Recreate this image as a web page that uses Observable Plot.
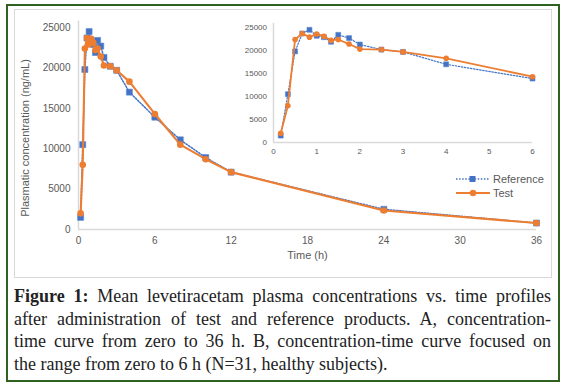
<!DOCTYPE html>
<html><head><meta charset="utf-8">
<script src="https://cdn.jsdelivr.net/npm/d3@7"></script>
<script src="https://cdn.jsdelivr.net/npm/@observablehq/plot@0.6"></script>
<style>
body{margin:0;background:#fff;}
#wrap{position:relative;width:568px;height:389px;overflow:hidden;background:#fff;}
#frame{position:absolute;left:6px;top:4px;width:554px;height:378px;border:2px solid #2f6121;box-sizing:border-box;}
#box{position:absolute;left:14px;top:9px;width:538px;height:269px;border:1px solid #d9d9d9;box-sizing:border-box;}
#main{position:absolute;left:14px;top:9px;}
#inset{position:absolute;left:230px;top:15px;}
#ytitle{position:absolute;left:25px;top:138px;transform:translate(-50%,-50%) rotate(-90deg);white-space:nowrap;font:11px "Liberation Sans",Arial,sans-serif;color:#595959;}
#legend{position:absolute;left:456px;top:172px;font:11px "Liberation Sans",Arial,sans-serif;color:#595959;}
#legend div{height:14px;display:flex;align-items:center;}
#legend svg{margin-right:3px;}
#caption{position:absolute;left:14px;top:285px;width:537px;font:18px "Liberation Serif","Times New Roman",serif;color:#222;line-height:22.7px;}
#caption span{display:block;text-align:justify;text-align-last:justify;white-space:nowrap;}
#caption span.last{text-align-last:left;}
</style></head>
<body>
<div id="wrap">
<div id="frame"></div>
<div id="box"></div>
<div id="main"></div>
<div id="inset"></div>
<div id="ytitle"></div>
<div id="legend"></div>
<div id="caption"></div>
</div>
<script>
// Data (time in hours, concentration in ng/mL)
const times = [0.167,0.333,0.5,0.667,0.833,1,1.167,1.333,1.5,1.75,2,2.5,3,4,6,8,10,12,24,36];
const reference = [1500,10500,19800,23700,24500,23200,22900,21900,23400,22700,21300,20200,19700,17000,13900,11100,8900,7100,2500,800];
const test = [2000,8000,22400,23700,22900,23600,23100,22200,22400,21400,20300,20200,19700,18300,14300,10500,8700,7100,2350,800];
const seriesNames = ["Reference","Test"];
const xTicksMain = [0,6,12,18,24,30,36];
const yTicks = [0,5000,10000,15000,20000,25000];
const xTicksInset = [0,1,2,3,4,5,6];
const xTitle = "Time (h)";
const yTitle = "Plasmatic concentration (ng/mL)";
const captionBold = "Figure 1:";
const captionLines = [
  " Mean levetiracetam plasma concentrations vs. time profiles",
  "after administration of test and reference products. A, concentration-",
  "time curve from zero to 36 h. B, concentration-time curve focused on",
  "the range from zero to 6 h (N=31, healthy subjects)."
];

const blue = "#4472C4", orange = "#ED7D31", axisGray = "#d9d9d9", labelGray = "#595959";
const refData = times.map((t,i)=>({t, c: reference[i]}));
const testData = times.map((t,i)=>({t, c: test[i]}));

function chart({data1, data2, width, height, margins, xDomain, xTicks, fontSize, padX, padY, ySpan, lw, rSq, rCi, extra}) {
  return Plot.plot({
    width, height,
    marginLeft: margins[0], marginRight: margins[1], marginTop: margins[2], marginBottom: margins[3],
    style: {background: "transparent", fontFamily: "'Liberation Sans', Arial, sans-serif", fontSize: fontSize + "px", color: labelGray},
    x: {domain: xDomain, ticks: xTicks, tickSize: 0, tickPadding: padX, label: null, tickFormat: d => String(d)},
    y: {domain: [0, 25000], ticks: yTicks, tickSize: 0, tickPadding: padY, label: null, tickFormat: d => String(d)},
    marks: [
      Plot.ruleY([0], {x1: xDomain[0], x2: xDomain[1], stroke: axisGray, strokeWidth: 1.5}),
      Plot.ruleX([0], {y1: 0, y2: ySpan, stroke: axisGray, strokeWidth: 1.5}),
      Plot.line(data1, {x: "t", y: "c", stroke: blue, strokeWidth: lw, strokeDasharray: "1.5,1.6"}),
      Plot.dot(data1, {x: "t", y: "c", symbol: "square", r: rSq, fill: blue, stroke: "#5b86d2", strokeWidth: 0.6}),
      Plot.line(data2, {x: "t", y: "c", stroke: orange, strokeWidth: lw + 0.6}),
      Plot.dot(data2, {x: "t", y: "c", symbol: "circle", r: rCi, fill: orange, stroke: "none"}),
      ...(extra || [])
    ]
  });
}

const main = chart({
  data1: refData, data2: testData, width: 538, height: 268, margins: [64, 16, 18, 48],
  xDomain: [0, 36], xTicks: xTicksMain, fontSize: 10, padX: 7, padY: 8, ySpan: 25800, lw: 1.5, rSq: 3.4, rCi: 3.3,
  extra: [
    Plot.text([xTitle], {text: d => d, frameAnchor: "bottom", dy: 29, fontSize: 11, fill: labelGray})
  ]
});
document.getElementById("main").appendChild(main);
document.getElementById("ytitle").textContent = yTitle;

const inset = chart({
  data1: refData.filter(d => d.t <= 6), data2: testData.filter(d => d.t <= 6), width: 315, height: 145, margins: [43, 13, 12, 18],
  xDomain: [0, 6], xTicks: xTicksInset, fontSize: 8, padX: 6, padY: 6.5, ySpan: 25900, lw: 1.2, rSq: 2.8, rCi: 2.8
});
document.getElementById("inset").appendChild(inset);

// Legend
const leg = document.getElementById("legend");
seriesNames.forEach((name, i) => {
  const row = document.createElement("div");
  const sym = i === 0
    ? `<svg width="34" height="10"><line x1="0" y1="5" x2="34" y2="5" stroke="${blue}" stroke-width="1.5" stroke-dasharray="1.5,1.6"/><rect x="13.5" y="2" width="6" height="6" fill="${blue}"/></svg>`
    : `<svg width="34" height="10"><line x1="0" y1="5" x2="34" y2="5" stroke="${orange}" stroke-width="2"/><circle cx="17" cy="5" r="3.2" fill="${orange}"/></svg>`;
  row.innerHTML = sym + `<span>${name}</span>`;
  leg.appendChild(row);
});

// Caption
const cap = document.getElementById("caption");
captionLines.forEach((line, i) => {
  const s = document.createElement("span");
  if (i === captionLines.length - 1) s.className = "last";
  if (i === 0) { const b = document.createElement("b"); b.textContent = captionBold; s.appendChild(b); }
  s.appendChild(document.createTextNode(line));
  cap.appendChild(s);
});
</script>
</body></html>
